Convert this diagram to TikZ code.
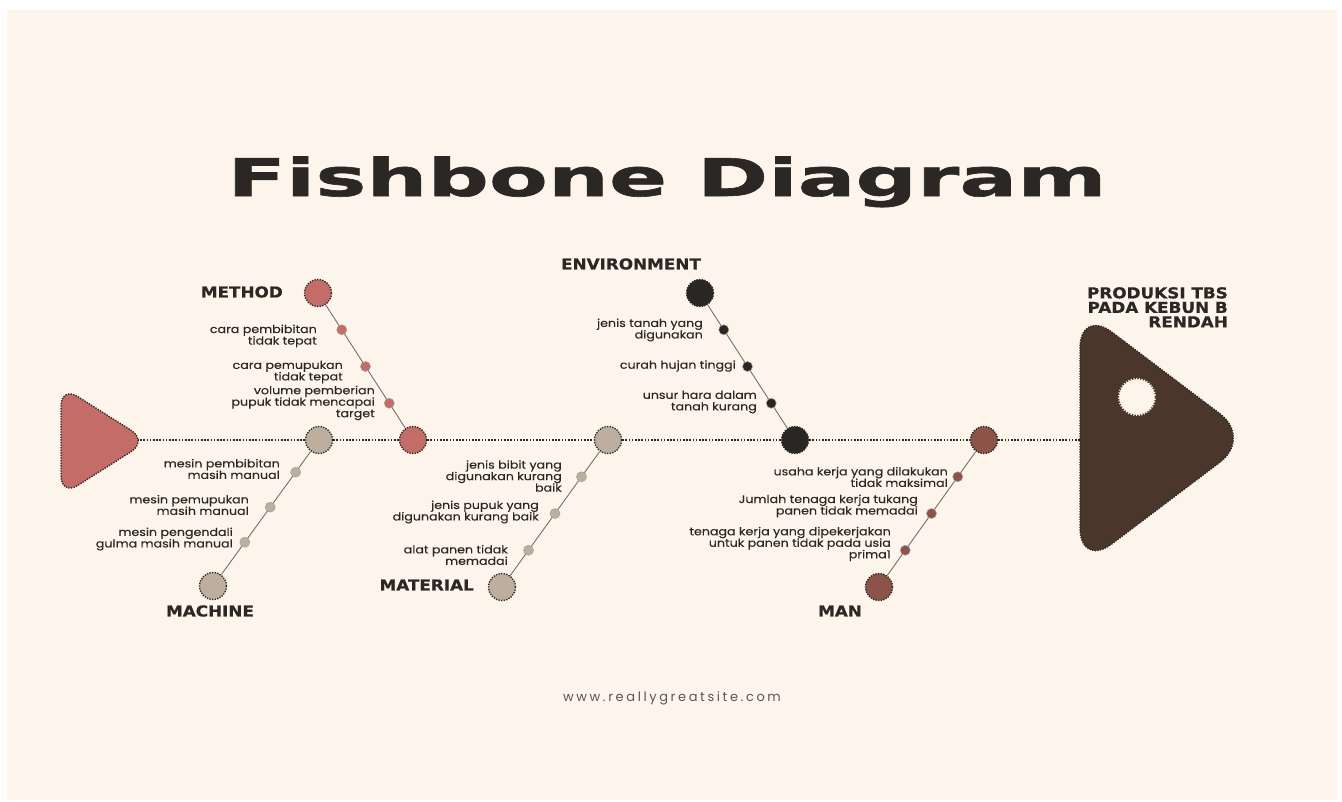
\documentclass[tikz,border=0pt]{standalone}
\usepackage{fontspec}
\setmainfont{Poppins}
\newfontfamily\causefont[FakeStretch=1.15,FakeBold=0.25]{Poppins}
\newfontfamily\labelfont[FakeStretch=1.12,FakeBold=0.6]{DejaVu Sans}
\newfontfamily\titlefont[FakeStretch=1.65,FakeBold=1.2]{DejaVu Sans}
\newfontfamily\sitefont[LetterSpace=20]{Poppins}
\usetikzlibrary{
  calc,
  backgrounds
}
\definecolor{paper}{RGB}{253, 245, 236}
\definecolor{inkcolor}{RGB}{43, 39, 36}
\definecolor{methodcolor}{RGB}{196, 108, 104}
\definecolor{machinecolor}{RGB}{190, 174, 158}
\definecolor{envcolor}{RGB}{42, 38, 36}
\definecolor{mancolor}{RGB}{140, 84, 72}
\definecolor{headcolor}{RGB}{74, 54, 43}
\definecolor{bonecolor}{RGB}{120, 110, 104}
\definecolor{sitecolor}{RGB}{90, 86, 82}
\tikzset{
titletext/.style={
  font=\titlefont\bfseries\fontsize{52}{52}\selectfont,
  text=inkcolor,
  inner sep=0pt
},
catlabel/.style={
  font=\labelfont\bfseries\fontsize{15}{15}\selectfont,
  text=inkcolor,
  inner sep=0pt
},
headlabel/.style={
  catlabel,
  align=right,
  font=\labelfont\bfseries\fontsize{15}{14.5}\selectfont
},
causetext/.style={
  font=\causefont\fontsize{11}{11.5}\selectfont,
  text=inkcolor,
  align=right,
  anchor=east,
  inner sep=0pt
},
sitetext/.style={
  font=\sitefont\fontsize{13}{13}\selectfont,
  text=sitecolor,
  inner sep=0pt
},
dottedrim/.style={
  draw=inkcolor,
  line width=1.4pt,
  dash pattern=on 1.3pt off 1.3pt
},
joint/.style={
  circle,
  minimum size=27pt,
  inner sep=0pt,
  dottedrim
},
causedot/.style={
  circle,
  minimum size=10pt,
  inner sep=0pt,
  draw=inkcolor!45,
  line width=0.5pt
},
spine/.style={
  draw=inkcolor,
  line width=1.8pt,
  dash pattern=on 1.5pt off 1.7pt
},
bone/.style={
  draw=bonecolor,
  line width=0.9pt
}
}

\begin{document}
\begin{tikzpicture}[x=1pt,y=1pt]
  \useasboundingbox (0,0) rectangle (1342,-801);
  \begin{scope}[on background layer]
    \fill[white] (0,0) rectangle (1342,-801);
    \fill[paper] (7,-10) rectangle (1337,-800);
  \end{scope}

  \node[titletext, anchor=base] (title) at (667,-196) {Fishbone Diagram};

  % tail and head of the fish
  \filldraw[dottedrim, fill=methodcolor, rounded corners=20pt] (61,-386) -- (148,-441) -- (61,-496) -- cycle;
  \filldraw[dottedrim, fill=headcolor, rounded corners=40pt] (1080,-308) -- (1252,-438) -- (1080,-568) -- cycle;
  \filldraw[fill=paper, draw=headcolor, line width=2.4pt, dash pattern=on 1.4pt off 1.4pt] (1137,-397) circle (19pt);
  \coordinate (tailTip) at (137,-440);
  \coordinate (headBase) at (1080,-440);

  % joints on the spine and ends of the bones
  \node[joint, fill=machinecolor] (machineJoint) at (319,-440) {};
  \node[joint, fill=methodcolor] (methodJoint) at (413,-440) {};
  \node[joint, fill=machinecolor] (materialJoint) at (608,-440) {};
  \node[joint, fill=envcolor] (envJoint) at (795,-440) {};
  \node[joint, fill=mancolor] (manJoint) at (984,-440) {};
  \node[joint, fill=methodcolor] (methodEnd) at (318,-293) {};
  \node[joint, fill=machinecolor] (machineEnd) at (213,-586) {};
  \node[joint, fill=machinecolor] (materialEnd) at (502,-587) {};
  \node[joint, fill=envcolor] (envEnd) at (700,-293) {};
  \node[joint, fill=mancolor] (manEnd) at (879,-587) {};

  \foreach \f [count=\i] in {0.25,0.5,0.75} {
    \node[causedot, fill=methodcolor] (methodDot\i) at ($(methodEnd)!\f!(methodJoint)$) {};
    \node[causedot, fill=machinecolor] (materialDot\i) at ($(materialJoint)!\f!(materialEnd)$) {};
    \node[causedot, fill=envcolor] (envDot\i) at ($(envEnd)!\f!(envJoint)$) {};
    \node[causedot, fill=mancolor] (manDot\i) at ($(manJoint)!\f!(manEnd)$) {};
  }
  \foreach \f [count=\i] in {0.22,0.46,0.7}
    \node[causedot, fill=machinecolor] (machineDot\i) at ($(machineJoint)!\f!(machineEnd)$) {};

  \begin{scope}[on background layer]
    \draw[spine] (tailTip) -- (machineJoint) -- (methodJoint) -- (materialJoint) -- (envJoint) -- (manJoint) -- (headBase);
    \draw[bone] (methodEnd) -- (methodJoint);
    \draw[bone] (machineJoint) -- (machineEnd);
    \draw[bone] (materialJoint) -- (materialEnd);
    \draw[bone] (envEnd) -- (envJoint);
    \draw[bone] (manJoint) -- (manEnd);
  \end{scope}

  % causes
  \node[causetext] (methodText1) at (317,-336) {cara pembibitan\\tidak tepat};
  \node[causetext] (methodText2) at (343,-372) {cara pemupukan\\tidak tepat};
  \node[causetext] (methodText3) at (375,-403) {volume pemberian\\pupuk tidak mencapai\\target};
  \node[causetext] (machineText1) at (280,-469) {mesin pembibitan\\masih manual};
  \node[causetext] (machineText2) at (249,-505) {mesin pemupukan\\masih manual};
  \node[causetext] (machineText3) at (233,-539) {mesin pengendali\\gulma masih manual};
  \node[causetext] (materialText1) at (562,-476) {jenis bibit yang\\digunakan kurang\\baik};
  \node[causetext] (materialText2) at (539,-512) {jenis pupuk yang\\digunakan kurang baik};
  \node[causetext] (materialText3) at (508,-555) {alat panen tidak\\memadai};
  \node[causetext] (envText1) at (703,-330) {jenis tanah yang\\digunakan};
  \node[causetext] (envText2) at (736,-366) {curah hujan tinggi};
  \node[causetext] (envText3) at (757,-402) {unsur hara dalam\\tanah kurang};
  \node[causetext] (manText1) at (948,-477) {usaha kerja yang dilakukan\\tidak maksimal};
  \node[causetext] (manText2) at (918,-506) {Jumlah tenaga kerja tukang\\panen tidak memadai};
  \node[causetext] (manText3) at (891,-544) {tenaga kerja yang dipekerjakan\\untuk panen tidak pada usia\\prima1};

  % category labels
  \node[catlabel, anchor=east] (methodLabel) at (283,-292) {METHOD};
  \node[catlabel] (machineLabel) at (210,-611) {MACHINE};
  \node[catlabel] (envLabel) at (631,-264) {ENVIRONMENT};
  \node[catlabel, anchor=east] (materialLabel) at (474,-585) {MATERIAL};
  \node[catlabel] (manLabel) at (840,-611) {MAN};
  \node[headlabel, anchor=north east] (effectLabel) at (1228,-287) {PRODUKSI TBS\\PADA KEBUN B\\RENDAH};

  \node[sitetext] (site) at (672,-698) {www.reallygreatsite.com};
\end{tikzpicture}
\end{document}
